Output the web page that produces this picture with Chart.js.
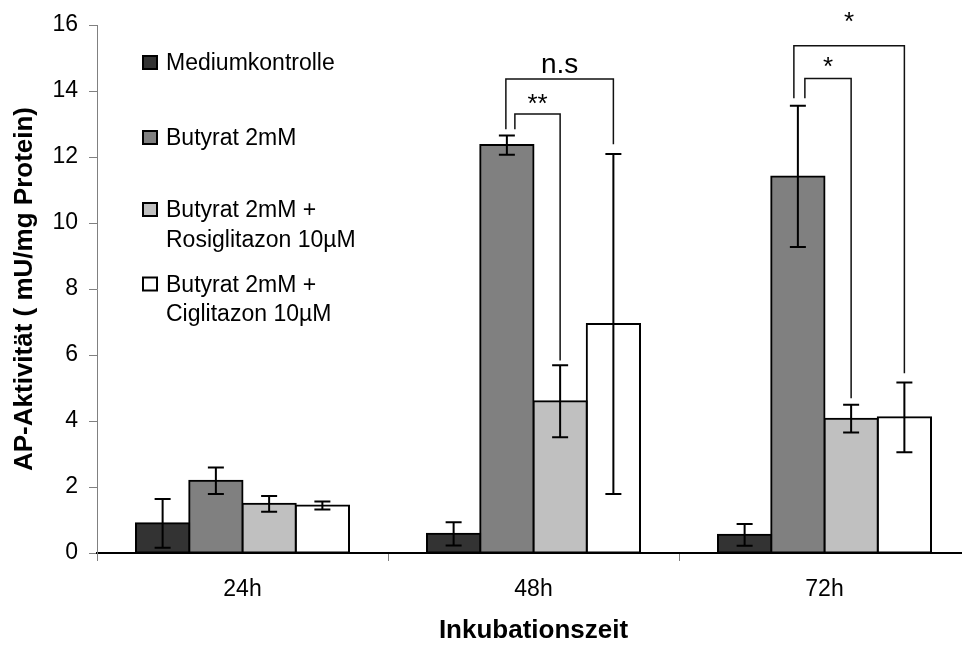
<!DOCTYPE html>
<html>
<head>
<meta charset="utf-8">
<script src="https://cdn.jsdelivr.net/npm/chart.js@4.4.1/dist/chart.umd.min.js"></script>
<style>
    html, body { margin: 0; padding: 0; background: #fff; }
    #wrap { width: 962px; height: 646px; overflow: hidden; position: relative; }
    canvas { display: block; }
</style>
</head>
<body>
<div id="wrap"><canvas id="apChart" width="975" height="646"></canvas></div>
<script>
// Daten
const timePoints = ['24h', '48h', '72h'];
const seriesNames = ['Mediumkontrolle', 'Butyrat 2mM', 'Butyrat 2mM + Rosiglitazon 10µM', 'Butyrat 2mM + Ciglitazon 10µM'];
const mediumValues = [0.90, 0.58, 0.55];
const mediumErrors = [0.74, 0.35, 0.33];
const butyratValues = [2.19, 12.36, 11.41];
const butyratErrors = [0.40, 0.29, 2.14];
const rosiValues = [1.49, 4.60, 4.07];
const rosiErrors = [0.24, 1.09, 0.42];
const cigliValues = [1.44, 6.94, 4.11];
const cigliErrors = [0.12, 5.15, 1.06];
const legendLines = [['Mediumkontrolle'], ['Butyrat 2mM'], ['Butyrat 2mM +', 'Rosiglitazon 10µM'], ['Butyrat 2mM +', 'Ciglitazon 10µM']];
const yTicks = [0, 2, 4, 6, 8, 10, 12, 14, 16];

// Signifikanz-Klammern (y-Werte in mU/mg Protein)
const brackets = [
    { group: 1, from: 1, to: 3, level: 14.36, fromEnd: 12.84, toEnd: 12.39, label: 'n.s', labelY: 14.55 },
    { group: 1, from: 1, to: 2, level: 13.30, fromEnd: 12.84, toEnd: 5.83, label: '**', labelY: 13.37 },
    { group: 2, from: 1, to: 3, level: 15.37, fromEnd: 13.78, toEnd: 5.45, label: '*', labelY: 15.84 },
    { group: 2, from: 1, to: 2, level: 14.38, fromEnd: 13.78, toEnd: 4.69, label: '*', labelY: 14.50 }
];

const valueSets = [mediumValues, butyratValues, rosiValues, cigliValues];
const errorSets = [mediumErrors, butyratErrors, rosiErrors, cigliErrors];
const barColors = ['#333333', '#808080', '#c0c0c0', '#ffffff'];
const fontFamily = '"Liberation Sans", Arial, sans-serif';
const legShift = [-1, 8, -4, 7];

const errorBarPlugin = {
    id: 'errorBars',
    afterDatasetsDraw(chart)
    {
        const ctx = chart.ctx;
        const y = chart.scales.y;
        ctx.save();
        ctx.strokeStyle = '#000';
        ctx.lineWidth = 2;
        chart.data.datasets.forEach((ds, i) =>
        {
            chart.getDatasetMeta(i).data.forEach((bar, j) =>
            {
                const v = ds.data[j], e = errorSets[i][j];
                const top = y.getPixelForValue(v + e);
                const bot = y.getPixelForValue(v - e);
                ctx.beginPath();
                ctx.moveTo(bar.x, top); ctx.lineTo(bar.x, bot);
                ctx.moveTo(bar.x - 8, top); ctx.lineTo(bar.x + 8, top);
                ctx.moveTo(bar.x - 8, bot); ctx.lineTo(bar.x + 8, bot);
                ctx.stroke();
            });
        });
        ctx.restore();
    }
};

const bracketPlugin = {
    id: 'brackets',
    afterDatasetsDraw(chart)
    {
        const ctx = chart.ctx;
        const y = chart.scales.y;
        ctx.save();
        ctx.strokeStyle = '#111';
        ctx.lineWidth = 1.5;
        ctx.fillStyle = '#000';
        ctx.textAlign = 'center';
        ctx.textBaseline = 'alphabetic';
        brackets.forEach((b, k) =>
        {
            const xL = chart.getDatasetMeta(b.from).data[b.group].x + legShift[k];
            const xR = chart.getDatasetMeta(b.to).data[b.group].x;
            const yLev = y.getPixelForValue(b.level);
            ctx.beginPath();
            ctx.moveTo(xL, y.getPixelForValue(b.fromEnd));
            ctx.lineTo(xL, yLev);
            ctx.lineTo(xR, yLev);
            ctx.lineTo(xR, y.getPixelForValue(b.toEnd));
            ctx.stroke();
            ctx.font = (b.label === 'n.s' ? '28px ' : '26px ') + fontFamily;
            ctx.fillText(b.label, (xL + xR) / 2, y.getPixelForValue(b.labelY));
        });
        ctx.restore();
    }
};

const legendPlugin = {
    id: 'insideLegend',
    afterDraw(chart)
    {
        const ctx = chart.ctx;
        const baselines = [70, 145, 217, 291.5];
        ctx.save();
        ctx.font = '23px ' + fontFamily;
        ctx.textAlign = 'left';
        ctx.textBaseline = 'alphabetic';
        legendLines.forEach((lines, i) =>
        {
            const base = baselines[i];
            ctx.fillStyle = barColors[i];
            ctx.fillRect(143, base - 14, 14, 13);
            ctx.strokeStyle = '#000';
            ctx.lineWidth = 2;
            ctx.strokeRect(143, base - 14, 14, 13);
            ctx.fillStyle = '#000';
            lines.forEach((txt, l) => ctx.fillText(txt, 166, base + l * 29.5));
        });
        ctx.restore();
    }
};

new Chart(document.getElementById('apChart'), {
    type: 'bar',
    data: {
        labels: timePoints,
        datasets: seriesNames.map((name, i) => ({
            label: name,
            data: valueSets[i],
            backgroundColor: barColors[i],
            borderColor: '#000',
            borderWidth: 2,
            borderSkipped: false,
            inflateAmount: 1,
            categoryPercentage: 0.732,
            barPercentage: 1
        }))
    },
    options: {
        responsive: false,
        animation: false,
        layout: { padding: { top: 25, right: 5, bottom: 0, left: 0 } },
        plugins: {
            legend: { display: false },
            tooltip: { enabled: false }
        },
        scales: {
            x: {
                grid: { drawOnChartArea: false, tickLength: 8, color: '#808080', offset: true },
                border: { color: '#000', width: 2 },
                ticks: { color: '#000', font: { family: fontFamily, size: 23 }, padding: 15 },
                title: {
                    display: true, text: 'Inkubationszeit', color: '#000',
                    font: { family: fontFamily, size: 26, weight: 'bold' },
                    padding: { top: 0, bottom: 0 }
                },
                afterFit: s => { s.height = 93; }
            },
            y: {
                min: 0,
                max: 16,
                afterBuildTicks: s => { s.ticks = yTicks.map(v => ({ value: v })); },
                grid: { drawOnChartArea: false, tickLength: 8, color: '#808080' },
                border: { color: '#808080', width: 1 },
                ticks: { color: '#000', font: { family: fontFamily, size: 23 }, padding: 11 },
                title: {
                    display: true, text: 'AP-Aktivität ( mU/mg Protein)', color: '#000',
                    font: { family: fontFamily, size: 26, weight: 'bold' },
                    padding: { top: 9, bottom: 0 }
                },
                afterFit: s => { s.width = 97; }
            }
        }
    },
    plugins: [errorBarPlugin, bracketPlugin, legendPlugin]
});
</script>
</body>
</html>
